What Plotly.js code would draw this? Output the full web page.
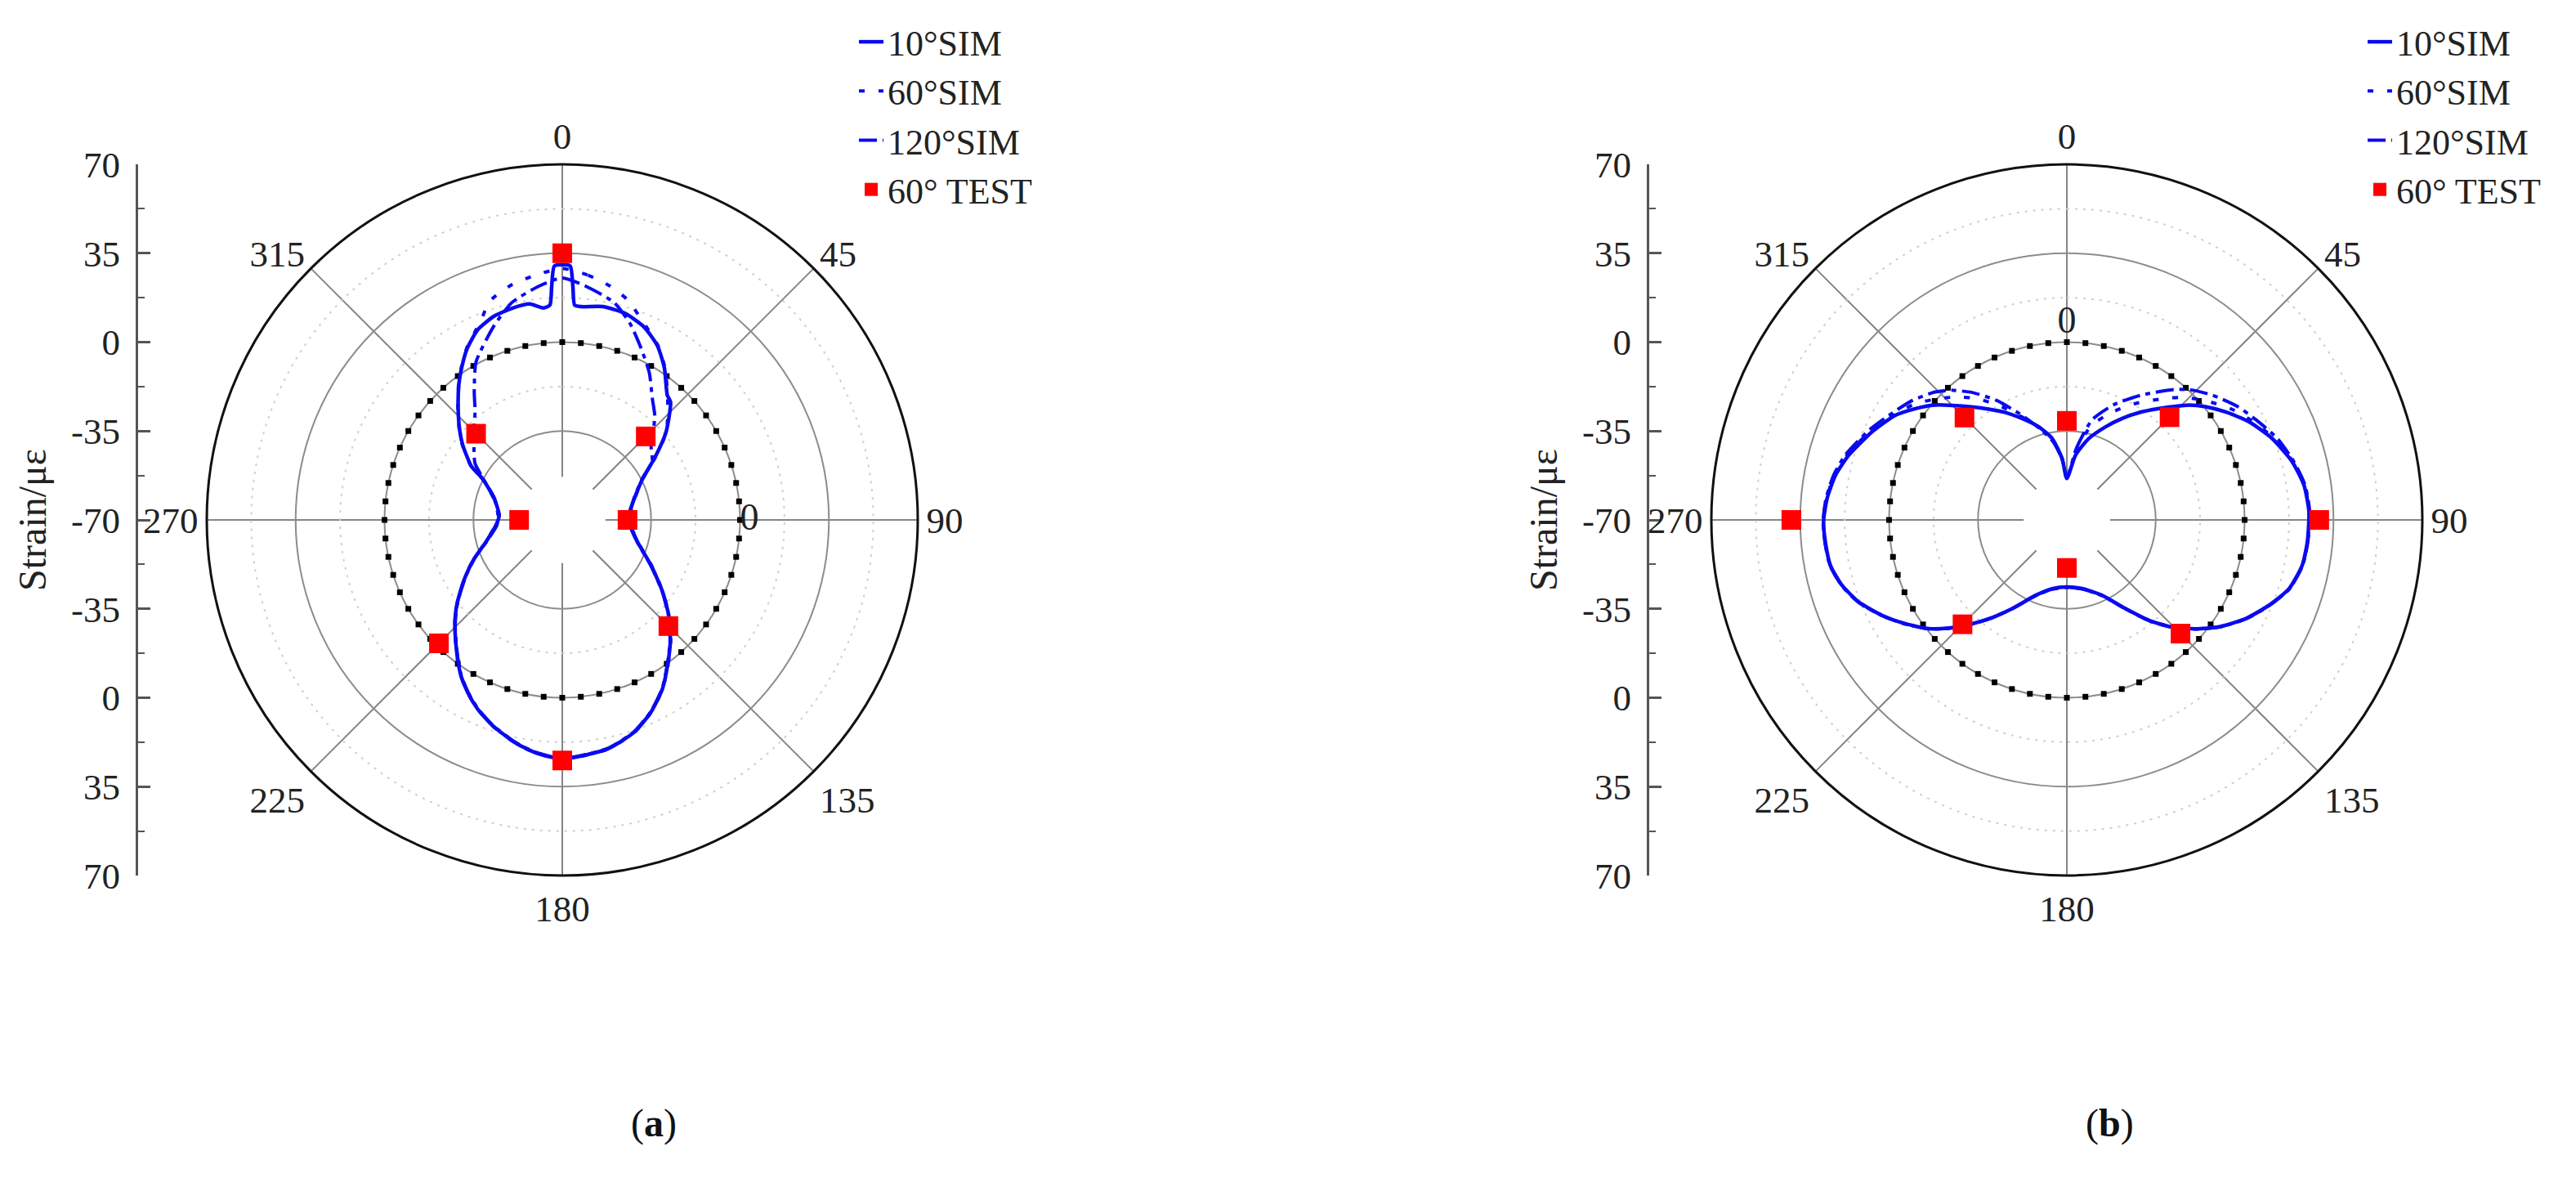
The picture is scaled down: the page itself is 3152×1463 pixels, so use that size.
<!DOCTYPE html>
<html>
<head>
<meta charset="utf-8">
<script src="https://cdn.plot.ly/plotly-3.0.1.min.js"></script>
<style>html,body{margin:0;padding:0;background:#fff;}#chart{width:3152px;height:1463px;}</style>
</head>
<body>
<div id="chart"></div>
<script>
// ---------- tick labels ----------
const radialTicks = [-70, -35, 0, 35, 70];
const angleTicks = [0, 45, 90, 135, 180, 225, 270, 315];
const seriesNames = ['10°SIM', '60°SIM', '120°SIM', '60° TEST'];

// ---------- panel (a) ----------
const thetaA10 = [0, 1.8, 2.6, 3.3, 5.1, 10.8, 16.9, 23.0, 28.7, 33.9, 40.1, 42.6, 49.7, 56.3, 62.8, 73.5, 82.0, 91.7, 106.3, 117.1, 125.7, 132.7, 138.5, 144.1, 149.3, 155.2, 161.2, 168.8, 180, 186.9, 192.2, 198.7, 204.2, 208.8, 213.1, 217.0, 221.1, 225.5, 230.1, 234.8, 240.1, 246.3, 253.9, 265.4, 274.2, 287.4, 297.4, 300.5, 306.9, 311.0, 316.2, 322.7, 326.5, 330.9, 336.1, 341.5, 347.0, 351.4, 354.9, 356.7, 357.4, 358.2, 360];
const rA10 = [30.5, 30.0, 22.0, 14.7, 14.3, 15.5, 15.0, 12.5, 8.1, 2.1, -5.8, -7.0, -16.4, -26.4, -34.4, -40.4, -43.0, -43.6, -39.1, -30.7, -21.3, -12.6, -5.8, 0.7, 7.3, 13.3, 18.2, 21.9, 24.1, 22.1, 19.5, 15.5, 11.5, 7.4, 3.1, -1.5, -6.2, -10.7, -15.5, -20.8, -26.2, -32.1, -38.7, -43.8, -45.1, -41.9, -34.6, -28.5, -21.0, -16.5, -10.8, -2.8, 1.8, 7.1, 12.0, 14.6, 15.7, 16.0, 13.8, 14.7, 22.0, 30.0, 30.5];

const thetaA60 = [0, 6.0, 11.5, 16.5, 22.1, 28.7, 33.9, 40.1, 49.7, 56.3, 62.8, 73.5, 91.7, 106.3, 117.1, 125.7, 132.7, 138.5, 144.1, 149.3, 155.2, 161.2, 168.8, 180, 186.9, 192.2, 198.7, 204.2, 208.8, 213.1, 217.0, 221.1, 225.5, 230.1, 234.8, 240.1, 246.3, 253.9, 265.4, 274.2, 287.4, 297.4, 300.5, 306.9, 311.0, 316.2, 322.7, 326.5, 330.9, 337.6, 341.7, 347.9, 353.6, 360];
const rA60 = [29.0, 26.9, 24.0, 20.4, 14.3, 8.4, 2.4, -5.6, -16.2, -26.2, -34.2, -40.2, -43.4, -38.9, -30.5, -21.1, -12.4, -5.6, 0.9, 7.4, 13.4, 18.3, 22.0, 24.2, 22.2, 19.6, 15.6, 11.6, 7.5, 3.2, -1.4, -6.1, -10.6, -15.4, -20.7, -26.1, -32.0, -38.6, -43.6, -44.8, -41.7, -34.4, -28.3, -20.8, -16.3, -10.6, -2.6, 2.0, 7.4, 14.5, 20.8, 24.7, 26.9, 29.0];

const thetaA120 = [0, 5.7, 13.4, 19.2, 24.8, 30.7, 36.4, 42.0, 49.9, 57.0, 62.8, 73.5, 91.7, 106.3, 117.1, 125.7, 132.7, 138.5, 144.1, 149.3, 155.2, 161.2, 168.8, 180, 186.9, 192.2, 198.7, 204.2, 208.8, 213.1, 217.0, 221.1, 225.5, 230.1, 234.8, 240.1, 246.3, 253.9, 265.4, 274.2, 287.4, 297.4, 303.0, 307.7, 317.1, 321.2, 325.5, 331.4, 340.7, 347.0, 354.3, 360];
const rA120 = [25.3, 22.5, 18.0, 11.6, 4.2, -2.8, -10.3, -15.5, -24.3, -27.8, -34.6, -40.6, -43.8, -39.3, -30.9, -21.5, -12.8, -6.0, 0.5, 7.1, 13.1, 18.0, 21.7, 23.9, 21.9, 19.3, 15.3, 11.3, 7.2, 2.9, -1.7, -6.4, -10.9, -15.7, -21.0, -26.4, -32.3, -38.9, -44.2, -44.6, -42.1, -35.0, -29.0, -26.1, -19.0, -15.2, -8.8, 0.9, 11.1, 17.9, 22.5, 25.3];

const testTheta = [0, 45, 90, 135, 180, 225, 270, 315];
const testA = [35.0, -23.5, -44.3, -10.9, 24.7, -1.3, -53.0, -22.0];

// ---------- panel (b) ----------
const thetaB10 = [0, 7.6, 15.1, 22.6, 28.6, 33.9, 39.6, 43.0, 46.8, 50.8, 55.8, 61.7, 68.4, 75.6, 81.7, 88.1, 95.2, 100.9, 107.2, 112.9, 118.9, 125.1, 130.2, 135.5, 140.7, 146.5, 154.9, 167.4, 180, 192.1, 202.6, 211.7, 218.3, 223.9, 227.5, 231.8, 237.3, 242.7, 248.5, 253.8, 259.1, 264.8, 269.7, 275.1, 280.9, 286.5, 294.3, 301.4, 306.3, 310.4, 314.2, 320.0, 324.8, 330.3, 336.2, 343.2, 349.8, 355.6, 360];
const rB10 = [-53.7, -44.3, -36.8, -30.3, -24.5, -19.1, -13.1, -9.1, -4.0, 0.5, 5.6, 11.5, 17.0, 21.7, 24.4, 25.4, 25.1, 24.4, 21.6, 16.4, 10.4, 3.2, -3.6, -10.8, -18.9, -28.1, -37.2, -42.3, -43.6, -42.3, -37.8, -29.0, -20.4, -12.4, -7.0, -0.8, 5.6, 11.9, 18.1, 22.2, 24.8, 25.5, 25.8, 24.8, 22.8, 19.6, 14.2, 9.1, 4.0, -0.3, -5.2, -11.9, -16.6, -21.3, -26.4, -31.7, -37.4, -45.8, -53.7];

const thetaBsim = [0, 7.6, 14.2, 22.2, 30.8, 39.4, 43.5, 49.3, 56.1, 62.0, 68.9, 75.6, 81.7, 88.1, 95.2, 100.9, 107.2, 112.9, 118.9, 125.1, 130.2, 135.5, 140.7, 146.5, 154.9, 167.4, 180, 192.1, 202.6, 211.7, 218.3, 223.9, 227.5, 231.8, 237.3, 242.7, 248.5, 253.8, 259.1, 264.8, 269.7, 275.1, 280.9, 286.5, 294.3, 301.0, 307.7, 313.9, 318.1, 323.4, 329.6, 336.2, 343.5, 349.8, 355.6, 360];
const rB60 = [-53.6, -43.0, -32.0, -24.5, -16.5, -8.0, -3.5, 2.0, 8.2, 12.8, 18.0, 22.0, 24.6, 25.5, 25.2, 24.5, 21.7, 16.5, 10.5, 3.3, -3.5, -10.7, -18.8, -28.0, -37.1, -42.2, -43.5, -42.2, -37.7, -28.9, -20.3, -12.3, -6.9, -0.7, 5.7, 12.0, 18.2, 22.3, 24.9, 25.6, 25.9, 25.0, 23.2, 20.2, 14.9, 10.0, 5.0, -1.0, -5.0, -10.5, -18.0, -25.5, -32.0, -37.8, -45.9, -53.6];
const rB120 = [-53.5, -41.5, -29.3, -21.0, -12.8, -3.6, 0.6, 5.4, 10.5, 14.2, 18.9, 22.3, 24.8, 25.7, 25.3, 24.6, 21.8, 16.6, 10.6, 3.4, -3.4, -10.6, -18.7, -27.9, -37.0, -42.1, -43.4, -42.1, -37.6, -28.8, -20.2, -12.2, -6.8, -0.6, 5.8, 12.1, 18.3, 22.4, 25.0, 25.7, 26.0, 25.2, 23.5, 20.8, 15.6, 10.9, 6.9, 2.5, -1.4, -7.5, -15.5, -24.5, -32.5, -38.5, -46.0, -53.5];

const testB = [-31.0, -12.8, 29.4, -6.7, -51.1, -11.9, 38.5, -13.0];

// zero-strain reference markers (black dotted circle)
const refTheta = [0, 6, 12, 18, 24, 30, 36, 42, 48, 54, 60, 66, 72, 78, 84, 90, 96, 102, 108, 114, 120, 126, 132, 138, 144, 150, 156, 162, 168, 174, 180, 186, 192, 198, 204, 210, 216, 222, 228, 234, 240, 246, 252, 258, 264, 270, 276, 282, 288, 294, 300, 306, 312, 318, 324, 330, 336, 342, 348, 354];
const refR = refTheta.map(() => 0);

// ---------- styling / layout ----------
const W = 3152, H = 1463;
const FONT = 'Liberation Serif, Times New Roman, serif';
const BLUE = '#0a0af0';
const minorRings = [-17.5, 17.5, 52.5];
const centreBlank = -53;           // spokes are left out inside this radius
const ringTheta = [];
for (let a = 0; a <= 360; a += 2) ringTheta.push(a);

function panelTraces(sub, leg, s10, s60, s120, test) {
  const out = [];
  minorRings.forEach(v => out.push({
    type: 'scatterpolar', subplot: sub, mode: 'lines', r: ringTheta.map(() => v), theta: ringTheta,
    line: {color: '#cfcfcf', width: 2, dash: '3px,7px'}, showlegend: false, hoverinfo: 'skip'
  }));
  out.push({
    type: 'scatterpolar', subplot: sub, mode: 'lines', r: ringTheta.map(() => centreBlank), theta: ringTheta,
    fill: 'toself', fillcolor: '#ffffff', line: {width: 0, color: '#ffffff'}, showlegend: false, hoverinfo: 'skip'
  });
  out.push({
    type: 'scatterpolar', subplot: sub, mode: 'markers', r: refR, theta: refTheta,
    marker: {symbol: 'square', size: 7, color: '#000'}, showlegend: false, hoverinfo: 'skip'
  });
  out.push({
    type: 'scatterpolar', subplot: sub, legend: leg, name: seriesNames[2], legendrank: 3,
    mode: 'lines', r: s120[1], theta: s120[0],
    line: {color: BLUE, width: 4, dash: '22px,7px,6px,7px', shape: 'spline', smoothing: 0.6}
  });
  out.push({
    type: 'scatterpolar', subplot: sub, legend: leg, name: seriesNames[1], legendrank: 2,
    mode: 'lines', r: s60[1], theta: s60[0],
    line: {color: BLUE, width: 4, dash: '7px,17px', shape: 'spline', smoothing: 0.6}
  });
  out.push({
    type: 'scatterpolar', subplot: sub, legend: leg, name: seriesNames[0], legendrank: 1,
    mode: 'lines', r: s10[1], theta: s10[0],
    line: {color: BLUE, width: 4.5, shape: 'spline', smoothing: 0.6}
  });
  out.push({
    type: 'scatterpolar', subplot: sub, legend: leg, name: seriesNames[3], legendrank: 4,
    mode: 'markers', r: test, theta: testTheta, cliponaxis: false,
    marker: {symbol: 'square', size: 24, color: '#ff0000'}
  });
  return out;
}

const traces = [].concat(
  panelTraces('polar', 'legend', [thetaA10, rA10], [thetaA60, rA60], [thetaA120, rA120], testA),
  panelTraces('polar2', 'legend2', [thetaB10, rB10], [thetaBsim, rB60], [thetaBsim, rB120], testB)
);
// "0" labels for the zero-strain circle
traces.push({type: 'scatterpolar', subplot: 'polar', mode: 'text', r: [0], theta: [90], text: ['0'],
  textposition: 'middle right', textfont: {family: FONT, size: 46, color: '#222'}, showlegend: false, hoverinfo: 'skip', cliponaxis: false});
traces.push({type: 'scatterpolar', subplot: 'polar2', mode: 'text', r: [0], theta: [0], text: ['0'],
  textposition: 'top center', textfont: {family: FONT, size: 46, color: '#222'}, showlegend: false, hoverinfo: 'skip', cliponaxis: false});
// carriers for the separate strain axes
traces.push({type: 'scatter', x: [], y: [], xaxis: 'x', yaxis: 'y', showlegend: false, hoverinfo: 'skip'});
traces.push({type: 'scatter', x: [], y: [], xaxis: 'x2', yaxis: 'y2', showlegend: false, hoverinfo: 'skip'});

const yDom = [(H - 1071) / H, (H - 201) / H];
const axisVals = [];
const axisText = [];
radialTicks.slice().reverse().forEach(t => { axisVals.push(t + 70); axisText.push(String(t)); });
radialTicks.slice(1).forEach(t => { axisVals.push(-(t + 70)); axisText.push(String(t)); });

function polarLayout(x0, x1) {
  return {
    domain: {x: [x0 / W, x1 / W], y: yDom},
    hole: 0,
    bgcolor: 'rgba(0,0,0,0)',
    angularaxis: {
      direction: 'clockwise', rotation: 90, tickmode: 'array', tickvals: angleTicks,
      ticktext: angleTicks.map(String), ticks: '', showline: true, linecolor: '#111', linewidth: 3,
      showgrid: true, gridcolor: '#858585', gridwidth: 2,
      tickfont: {family: FONT, size: 45, color: '#222'}
    },
    radialaxis: {
      range: [radialTicks[0], radialTicks[radialTicks.length - 1]], tickmode: 'array', tickvals: [-35, 0, 35], showticklabels: false,
      ticks: '', showline: false, gridcolor: '#8c8c8c', gridwidth: 2, angle: 90
    }
  };
}

function strainAxis(pos) {
  return {
    anchor: 'free', position: pos / W, side: 'left', domain: yDom, range: [-140, 140],
    tickmode: 'array', tickvals: axisVals, ticktext: axisText,
    ticks: 'inside', ticklen: 15, tickwidth: 3, tickcolor: '#555',
    showline: true, linecolor: '#555', linewidth: 3, showgrid: false, zeroline: false,
    ticklabelstandoff: 10,
    tickfont: {family: FONT, size: 45, color: '#222'},
    minor: {ticks: 'inside', ticklen: 8, tickwidth: 2, tickcolor: '#555', tickmode: 'linear', tick0: 0, dtick: 17.5, showgrid: false},
    title: {text: 'Strain/με', font: {family: FONT, size: 48, color: '#222'}, standoff: 14},
    fixedrange: true
  };
}

const legendBase = {
  xanchor: 'left', yanchor: 'top', y: 1 - 16 / H,
  font: {family: FONT, size: 44, color: '#222'}, bgcolor: 'rgba(0,0,0,0)',
  tracegroupgap: 0, itemwidth: 30, itemsizing: 'trace'
};

const layout = {
  width: W, height: H,
  margin: {l: 0, r: 0, t: 0, b: 0},
  paper_bgcolor: '#fff', plot_bgcolor: 'rgba(0,0,0,0)',
  font: {family: FONT, size: 44, color: '#222'},
  showlegend: true,
  polar: polarLayout(253, 1123),
  polar2: polarLayout(2094, 2964),
  xaxis: {domain: [0.0, 0.02], range: [0, 1], visible: false, fixedrange: true},
  xaxis2: {domain: [0.5, 0.52], range: [0, 1], visible: false, fixedrange: true},
  yaxis: strainAxis(167),
  yaxis2: strainAxis(2016),
  legend: Object.assign({}, legendBase, {x: 1046 / W}),
  legend2: Object.assign({}, legendBase, {x: 2892 / W}),
  annotations: [
    {xref: 'paper', yref: 'paper', x: 770 / W, y: 1 - 1403 / H, text: '(<b>a</b>)', showarrow: false,
     font: {family: FONT, size: 48, color: '#111'}},
    {xref: 'paper', yref: 'paper', x: 2613 / W, y: 1 - 1403 / H, text: '(<b>b</b>)', showarrow: false,
     font: {family: FONT, size: 48, color: '#111'}}
  ]
};

Plotly.newPlot('chart', traces, layout, {staticPlot: true, displayModeBar: false});
</script>
</body>
</html>
